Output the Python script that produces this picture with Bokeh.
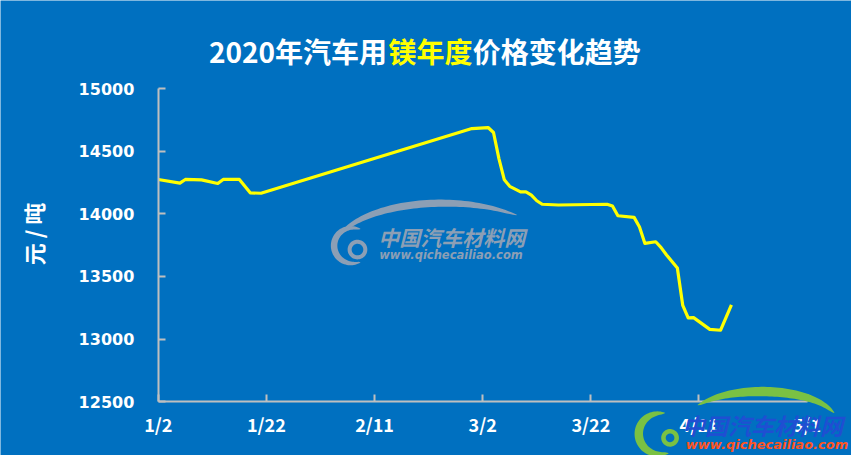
import numpy as np
import pandas as pd
from bokeh.plotting import figure
from bokeh.models import Range1d, FixedTicker, Label, PolyAnnotation
from bokeh.embed import file_html
from bokeh.resources import INLINE

# ---- data ----
dates = ["2020-01-02", "2020-01-06", "2020-01-07", "2020-01-10", "2020-01-13",
         "2020-01-14", "2020-01-17", "2020-01-19", "2020-01-21", "2020-02-29",
         "2020-03-03", "2020-03-04", "2020-03-05", "2020-03-06", "2020-03-07",
         "2020-03-09", "2020-03-10", "2020-03-11", "2020-03-12", "2020-03-13",
         "2020-03-16", "2020-03-25", "2020-03-26", "2020-03-27", "2020-03-30",
         "2020-03-31", "2020-04-01", "2020-04-03", "2020-04-04", "2020-04-05",
         "2020-04-07", "2020-04-08", "2020-04-09", "2020-04-10", "2020-04-13",
         "2020-04-15", "2020-04-17"]
prices = [14275, 14246, 14275, 14272, 14243,
          14275, 14275, 14168, 14165, 14682,
          14690, 14650, 14442, 14272, 14220,
          14176, 14176, 14150, 14105, 14077,
          14071, 14077, 14063, 13985, 13972,
          13895, 13764, 13777, 13730, 13672,
          13568, 13268, 13169, 13171, 13077,
          13070, 13273]

tick_dates = ["2020-01-02", "2020-01-22", "2020-02-11", "2020-03-02",
              "2020-03-22", "2020-04-11", "2020-05-01"]
tick_labels = ["1/2", "1/22", "2/11", "3/2", "3/22", "4/11", "5/1"]
y_ticks = [12500, 13000, 13500, 14000, 14500, 15000]

title_parts = ["2020年汽车用", "镁年度", "价格变化趋势"]
y_title = "元 / 吨"
wm_cn = "中国汽车材料网"
wm_url = "www.qichecailiao.com"

BG = "#0070C0"
CJK = "Noto Sans CJK SC"
W, H = 851, 455


def ms(s):
    return float(pd.Timestamp(s).value // 10**6)


# reference-layout -> canvas mapping (reference blue area 2..865 x 2..466)
def cx(X):
    return (np.asarray(X, dtype=float) - 2) * W / 863.0


def cy(Y):
    return (np.asarray(Y, dtype=float) - 2) * H / 464.0


# screen units (frame == whole canvas, y up from bottom)
def sx(X):
    return float(cx(X)) if np.ndim(X) == 0 else list(cx(X))


def sy(Y):
    return float(H - cy(Y)) if np.ndim(Y) == 0 else list(H - cy(Y))


x0, x1 = ms(tick_dates[0]), ms(tick_dates[-1])
y0, y1 = y_ticks[0], y_ticks[-1]
fl, fr = float(cx(162)), float(cx(820))
ft, fb = float(cy(92)), float(cy(411))
kx = (x1 - x0) / (fr - fl)
ky = (y1 - y0) / (fb - ft)

p = figure(width=W, height=H, x_axis_type="datetime",
           x_range=Range1d(x0 - fl * kx, x1 + (W - fr) * kx),
           y_range=Range1d(y0 - (H - fb) * ky, y1 + ft * ky),
           output_backend="svg", toolbar_location=None,
           min_border_left=0, min_border_right=0,
           min_border_top=0, min_border_bottom=0)
p.background_fill_color = BG
p.border_fill_color = BG
p.outline_line_color = None
p.grid.visible = False


def swoosh(cxr, cyr, rx, ry, a0, a1, thick, taper=True, n=60):
    t = np.linspace(0, 1, n)
    a = np.radians(a0 + (a1 - a0) * t)
    w = thick * (np.sin(np.pi * t) ** 0.6 if taper else np.ones_like(t)) + 0.6
    xo = cxr + rx * np.cos(a)
    yo = cyr - ry * np.sin(a)
    xi = cxr + (rx - w) * np.cos(a)
    yi = cyr - (ry - w) * np.sin(a)
    xs = np.concatenate([xo, xi[::-1]])
    ys = np.concatenate([yo, yi[::-1]])
    return sx(xs), sy(ys)


def add_shape(xs, ys, color, level="underlay"):
    p.add_layout(PolyAnnotation(xs=xs, ys=ys, xs_units="screen", ys_units="screen",
                                fill_color=color, fill_alpha=1.0, line_color=None,
                                level=level))


def add_text(X, Y, text, font, style, size, color, align="left", angle=0.0, level="annotation"):
    p.add_layout(Label(x=sx(X), y=sy(Y), x_units="screen", y_units="screen", text=text,
                       text_font=font, text_font_style=style, text_font_size=size,
                       text_color=color, text_align=align, text_baseline="middle",
                       angle=angle, level=level))


# ---- center watermark ----
WM = "#8C9FB5"
add_shape(*swoosh(448, 256, 108, 51, 165, 44, 7), WM)
add_shape(*swoosh(357, 252, 20, 20, 60, 300, 6), WM)
add_shape(*swoosh(364, 256, 10, 10, 0, 360, 3.5, taper=False), WM)
add_text(385, 243, wm_cn, CJK, "bold italic", "21px", WM, level="underlay")
add_text(386, 262, wm_url, "DejaVu Sans", "bold italic", "11.5px", WM, level="underlay")

# ---- data line ----
x = [pd.Timestamp(d) for d in dates]
p.line(x, prices, line_color="#FFFF00", line_width=3.2, line_join="round")

# ---- axes (pinned to the data corner) ----
tick_ms = [ms(d) for d in tick_dates]
for ax in (p.xaxis[0], p.yaxis[0]):
    ax.axis_line_color = "#BFBFBF"
    ax.axis_line_width = 2
    ax.major_tick_line_color = "#BFBFBF"
    ax.major_tick_line_width = 2
    ax.major_tick_in = 7
    ax.major_tick_out = 0
    ax.minor_tick_line_color = None
    ax.major_label_text_color = "white"
    ax.major_label_text_font_style = "bold"

p.yaxis[0].fixed_location = x0
p.yaxis[0].bounds = (y0, y1)
p.yaxis[0].ticker = FixedTicker(ticks=y_ticks)
p.yaxis[0].major_label_text_font = "DejaVu Sans"
p.yaxis[0].major_label_text_font_size = "16px"
p.yaxis[0].major_label_standoff = 24

p.xaxis[0].fixed_location = y0
p.xaxis[0].bounds = (x0, x1)
p.xaxis[0].ticker = FixedTicker(ticks=tick_ms)
p.xaxis[0].major_label_overrides = {t: l for t, l in zip(tick_ms, tick_labels)}
p.xaxis[0].major_label_text_font = CJK
p.xaxis[0].major_label_text_font_size = "18px"
p.xaxis[0].major_label_standoff = 9

# ---- y title ----
add_text(35, 240, y_title, CJK, "bold", "22px", "white", align="center", angle=np.pi / 2)

# ---- title ----
add_text(394, 53, title_parts[0], CJK, "bold", "28px", "white", align="right")
add_text(438, 53, title_parts[1], CJK, "bold", "28px", "#FFFF00", align="center")
add_text(481, 53, title_parts[2], CJK, "bold", "28px", "white", align="left")

# ---- bottom-right logo ----
GR = "#7AC143"
add_shape(*swoosh(775, 431, 75, 35, 152, 14, 9), GR, level="annotation")
add_shape(*swoosh(668, 444, 23, 23, 70, 300, 8), GR, level="annotation")
add_shape(*swoosh(681, 448, 9, 9, 0, 360, 4, taper=False), GR, level="annotation")
add_text(693, 435, wm_cn, CJK, "bold italic", "23px", "#1F4FD2")
add_text(697, 455, wm_url, "DejaVu Sans", "bold italic", "13px", "#FF5522")

open("out.html", "w").write(file_html(p, INLINE))
